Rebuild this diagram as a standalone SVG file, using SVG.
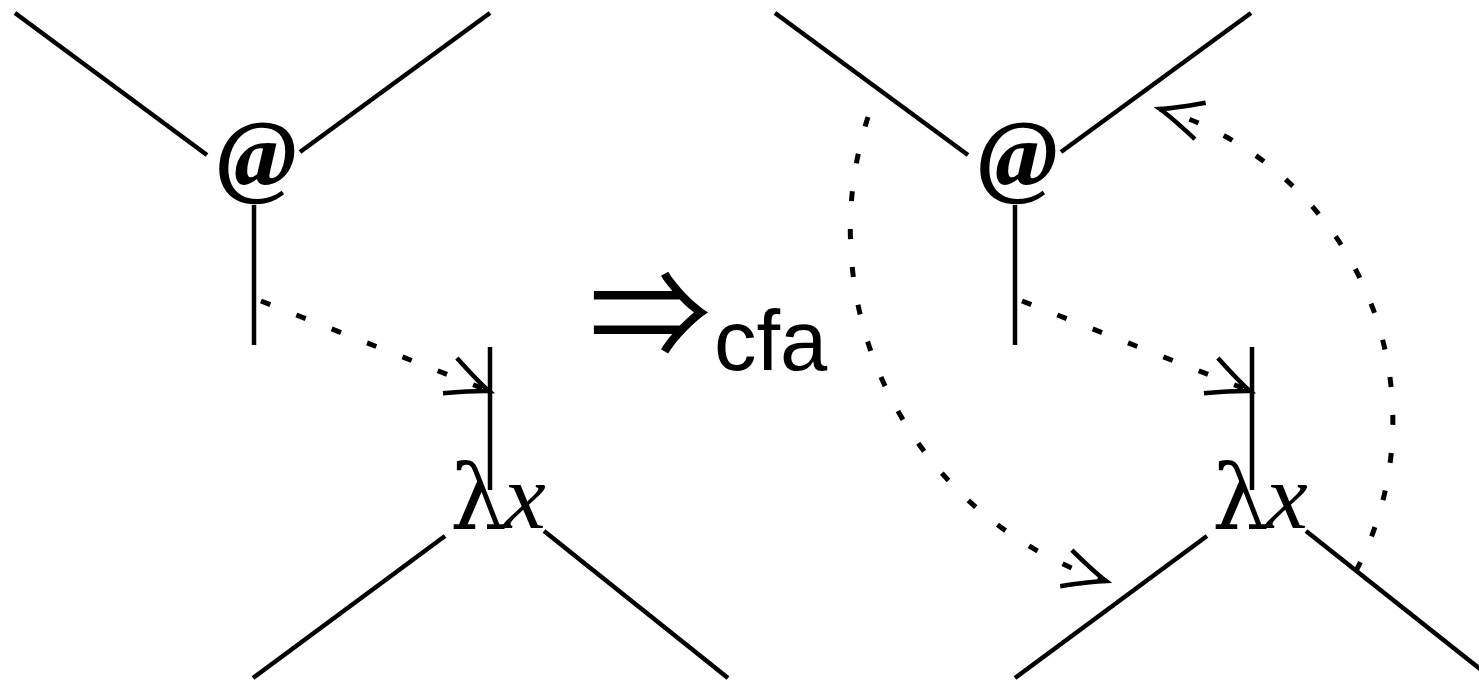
<svg xmlns="http://www.w3.org/2000/svg" width="1479" height="683" viewBox="0 0 1479 683">
<style>
.ln{stroke:#000;stroke-width:4.5;fill:none;stroke-linecap:butt}
.dt{stroke:#000;stroke-width:5;fill:none;stroke-dasharray:10 28;marker-end:url(#arr)}
.at{font-family:"Liberation Serif",serif;font-weight:bold;font-style:italic;font-size:96px;fill:#000}
.lam{font-family:"DejaVu Serif","Liberation Serif",serif;font-size:90px;fill:#000}
.xv{font-family:"Liberation Serif",serif;font-style:italic;font-size:94px;fill:#000}
.sans{font-family:"Liberation Sans",sans-serif;font-size:85px;fill:#000}
.arrw{font-family:"Noto Sans CJK JP","DejaVu Sans",sans-serif;font-size:122px;fill:#000}
</style>
<defs>
<marker id="arr" markerUnits="userSpaceOnUse" orient="auto" refX="0" refY="0" markerWidth="60" markerHeight="60" viewBox="-50 -30 60 60" overflow="visible">
<path d="M-42,-19 Q-14,-5 0,0 Q-14,5 -42,19" fill="none" stroke="#000" stroke-width="4.5" stroke-dasharray="none"/>
</marker>
</defs>
<g id="left-app">
<line class="ln" x1="15" y1="13" x2="207" y2="155"/>
<line class="ln" x1="490" y1="13" x2="300" y2="152"/>
<text class="at" x="257" y="186" text-anchor="middle">@</text>
<line class="ln" x1="254" y1="205" x2="254" y2="345"/>
</g>
<g id="left-lam">
<line class="ln" x1="490" y1="347" x2="490" y2="490"/>
<text class="lam" x="450" y="528">λ</text>
<text class="xv" x="504" y="528">x</text>
<line class="ln" x1="445" y1="536" x2="253" y2="678"/>
<line class="ln" x1="544" y1="531" x2="728" y2="678"/>
</g>
<g id="mid">
<text class="arrw" x="589" y="358">⇒</text>
<text class="sans" x="714" y="370">cfa</text>
</g>
<g id="right-app">
<line class="ln" x1="775" y1="13" x2="968" y2="155"/>
<line class="ln" x1="1251" y1="13" x2="1061" y2="152"/>
<text class="at" x="1018" y="186" text-anchor="middle">@</text>
<line class="ln" x1="1015" y1="205" x2="1015" y2="345"/>
</g>
<g id="right-lam">
<line class="ln" x1="1252" y1="347" x2="1252" y2="490"/>
<text class="lam" x="1212" y="528">λ</text>
<text class="xv" x="1266" y="528">x</text>
<line class="ln" x1="1207" y1="536" x2="1015" y2="678"/>
<line class="ln" x1="1306" y1="531" x2="1485" y2="673"/>
</g>
<g id="connectors">
<path class="dt" d="M261,301 L489,391"/>
<path class="dt" d="M1022,301 L1250,391"/>
<path class="dt" d="M868,117 A369,369 0 0 0 1106,581"/>
<path class="dt" d="M1356,571 A325,325 0 0 0 1160,109"/>
</g>
</svg>
